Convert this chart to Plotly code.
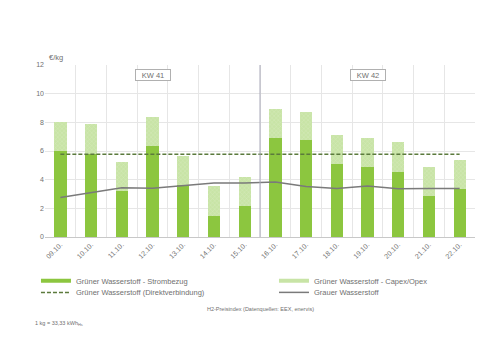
import plotly.graph_objects as go

days = ["09.10.", "10.10.", "11.10.", "12.10.", "13.10.", "14.10.", "15.10.",
        "16.10.", "17.10.", "18.10.", "19.10.", "20.10.", "21.10.", "22.10."]
strombezug = [6.0, 5.8, 3.2, 6.35, 3.62, 1.5, 2.15, 6.9, 6.75, 5.1, 4.85, 4.55, 2.85, 3.35]
capex_opex = [2.05, 2.1, 2.0, 2.05, 2.05, 2.05, 2.05, 2.05, 2.0, 2.05, 2.05, 2.05, 2.05, 2.05]
direkt = [5.78] * 14
grau = [2.76, 3.1, 3.44, 3.4, 3.57, 3.76, 3.76, 3.83, 3.53, 3.39, 3.55, 3.37, 3.39, 3.39]
week_labels = ["KW 41", "KW 42"]
week_label_days = ["12.10.", "19.10."]
yticks = [0, 2, 4, 6, 8, 10, 12]

FONT = "Liberation Sans, Arial, sans-serif"
GREY_TXT = "#707070"
DARK_GREEN = "#8cc63f"
LIGHT_GREEN = "#c8e4a6"
DASH_COL = "#5b7a3c"
GREY_LINE = "#7a7a7a"

fig = go.Figure()
fig.add_trace(go.Bar(
    x=days, y=strombezug, name="Grüner Wasserstoff - Strombezug",
    marker=dict(color=DARK_GREEN, line=dict(width=0)), width=0.4, showlegend=False,
))
fig.add_trace(go.Bar(
    x=days, y=capex_opex, name="Grüner Wasserstoff - Capex/Opex",
    marker=dict(color=LIGHT_GREEN, line=dict(width=0),
                pattern=dict(shape="x", fgcolor="#e4f2d4", bgcolor=LIGHT_GREEN,
                             size=3, solidity=0.25)),
    width=0.4, showlegend=False,
))
fig.add_trace(go.Scatter(
    x=days, y=direkt, name="Grüner Wasserstoff (Direktverbindung)", mode="lines",
    line=dict(color=DASH_COL, width=1.5, dash="4px,2px"), legend="legend3",
))
fig.add_trace(go.Scatter(
    x=days, y=grau, name="Grauer Wasserstoff", mode="lines",
    line=dict(color=GREY_LINE, width=1.5), legend="legend4",
))
# legend-only entries for the stacked bars (thick line swatches)
fig.add_trace(go.Scatter(x=[None], y=[None], mode="lines", name="Grüner Wasserstoff - Strombezug",
                         line=dict(color=DARK_GREEN, width=4), legend="legend"))
fig.add_trace(go.Scatter(x=[None], y=[None], mode="lines", name="Grüner Wasserstoff - Capex/Opex",
                         line=dict(color=LIGHT_GREEN, width=4), legend="legend2"))

fig.add_shape(type="line", xref="x", yref="paper", x0=6.5, x1=6.5, y0=0, y1=1,
              line=dict(color="#a8a8b8", width=1))

for lab, d in zip(week_labels, week_label_days):
    fig.add_annotation(x=d, y=11.3, text=lab, showarrow=False,
                       font=dict(size=7.5, color=GREY_TXT, family=FONT),
                       width=32, height=8, align="center",
                       bordercolor="#b0b0b0", borderwidth=1, borderpad=1,
                       bgcolor="white")

fig.add_annotation(xref="paper", yref="paper", x=0.005, y=1.005, xanchor="left",
                   yanchor="bottom", text="€/kg", showarrow=False,
                   font=dict(size=7.5, color=GREY_TXT, family=FONT))
fig.add_annotation(xref="paper", yref="paper", x=0.50, y=-0.42, xanchor="center",
                   yanchor="middle", text="H2-Preisindex (Datenquellen: EEX, enervis)",
                   showarrow=False, font=dict(size=5.5, color=GREY_TXT, family=FONT))
fig.add_annotation(xref="paper", yref="paper", x=-0.028, y=-0.5, xanchor="left",
                   yanchor="middle", text="1 kg = 33,33 kWh<sub>Hs</sub>",
                   showarrow=False, font=dict(size=5.5, color=GREY_TXT, family=FONT))

legend_common = dict(orientation="v", xanchor="left", yanchor="middle",
                     font=dict(size=7.5, color=GREY_TXT, family=FONT),
                     bgcolor="rgba(0,0,0,0)")
row1, row2 = -0.254, -0.322
col1, col2 = -0.021, 0.5325

fig.update_layout(
    width=500, height=346,
    margin=dict(l=45, r=25, t=65, b=109),
    paper_bgcolor="white", plot_bgcolor="white",
    barmode="stack", bargap=0.6,
    showlegend=True,
    legend=dict(x=col1, y=row1, **legend_common),
    legend2=dict(x=col2, y=row1, **legend_common),
    legend3=dict(x=col1, y=row2, **legend_common),
    legend4=dict(x=col2, y=row2, **legend_common),
    font=dict(family=FONT, color=GREY_TXT, size=7),
    xaxis=dict(type="category", tickangle=-45, tickson="boundaries",
               showgrid=True, gridcolor="#e6e6e6", gridwidth=1,
               showline=True, linecolor="#c8c8c8", ticks="",
               tickfont=dict(size=7, color=GREY_TXT, family=FONT),
               range=[-0.5, 13.5]),
    yaxis=dict(range=[0, 12], tickvals=yticks, showgrid=True, gridcolor="#e6e6e6",
               gridwidth=1, zeroline=False, showline=False, ticks="",
               tickfont=dict(size=7, color=GREY_TXT, family=FONT)),
)

fig.write_html("out.html")
